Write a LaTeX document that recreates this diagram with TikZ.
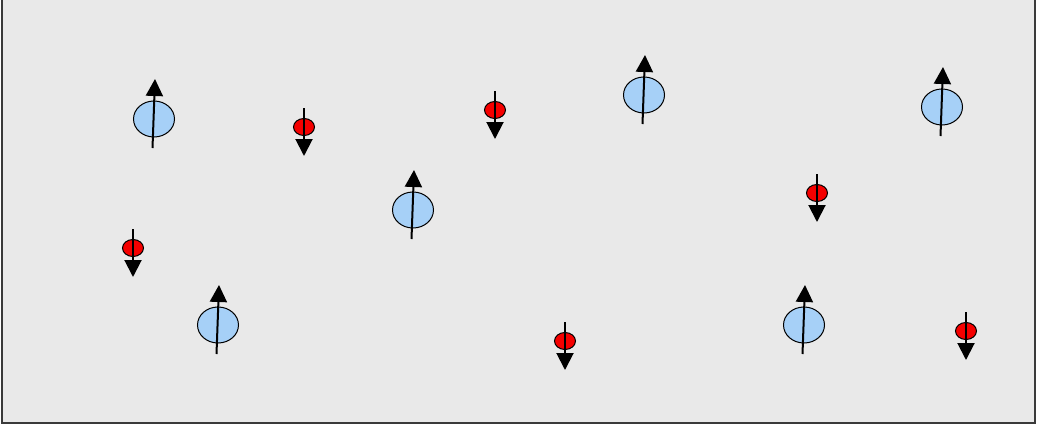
\documentclass[tikz,border=0pt]{standalone}
\usetikzlibrary{shapes.geometric,arrows.meta}
\definecolor{panel}{HTML}{E9E9E9}
\definecolor{framegray}{HTML}{3A3A3A}
\definecolor{upblue}{HTML}{A6D0F7}
\definecolor{downred}{HTML}{F50000}
\tikzset{
  bigspin/.style={ellipse, draw=black, line width=1pt, fill=upblue,
    minimum width=41pt, minimum height=36pt, inner sep=0pt},
  smallspin/.style={ellipse, draw=black, line width=1pt, fill=downred,
    minimum width=21pt, minimum height=17pt, inner sep=0pt},
  spinarrow/.style={line width=2pt, draw=black,
    -{Triangle[length=17pt,width=17pt]}},
  framebox/.style={draw=framegray, line width=2pt},
}
\begin{document}
\begin{tikzpicture}[x=1pt,y=-1pt]
  \useasboundingbox (0,0) rectangle (1037,429);
  \fill[white] (0,0) rectangle (1037,429);
  \fill[panel] (2,0) rectangle (1035,423);
  \draw[framebox] (2,0) -- (2,423) -- (1035,423) -- (1035,0);
  % large particles, spin up
  \foreach \n/\x/\y in {b1/154/119, b2/413/210, b3/218/325, b4/644/95, b5/942/107, b6/804/325}{
    \node[bigspin] (\n) at (\x,\y) {};
    \coordinate (\n-tail) at ([xshift=-1.5pt,yshift=-29pt]\n.center);
    \coordinate (\n-tip) at ([xshift=1pt,yshift=40pt]\n.center);
    \draw[spinarrow] (\n-tail) -- (\n-tip);
  }
  % small particles, spin down
  \foreach \n/\x/\y in {r1/304/127, r2/495/110, r3/133/248, r4/565/341, r5/817/193, r6/966/331}{
    \node[smallspin] (\n) at (\x,\y) {};
    \coordinate (\n-tail) at ([yshift=19pt]\n.center);
    \coordinate (\n-tip) at ([yshift=-29pt]\n.center);
    \draw[spinarrow] (\n-tail) -- (\n-tip);
  }
\end{tikzpicture}
\end{document}
